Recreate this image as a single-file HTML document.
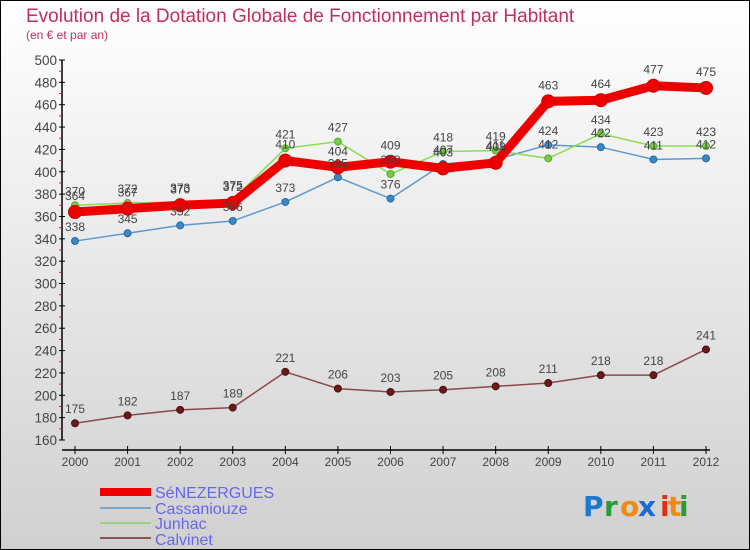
<!DOCTYPE html>
<html><head><meta charset="utf-8"><style>
html,body{margin:0;padding:0}
body{width:750px;height:550px;overflow:hidden;font-family:"Liberation Sans","DejaVu Sans",sans-serif}
</style></head><body>
<svg id="chart" width="750" height="550" xmlns="http://www.w3.org/2000/svg" style="display:block">
<defs>
<linearGradient id="bg" x1="0" y1="0" x2="0" y2="1">
<stop offset="0" stop-color="#ffffff"/><stop offset="1" stop-color="#d0d0d0"/>
</linearGradient>
</defs>
<rect x="0.5" y="0.5" width="749" height="549" fill="url(#bg)" stroke="#000" stroke-width="1"/>
<text x="26" y="22" font-size="19" fill="#c0305a" font-weight="normal">Evolution de la Dotation Globale de Fonctionnement par Habitant</text>
<text x="26" y="39" font-size="12" fill="#c0305a">(en € et par an)</text>
<g id="axes"></g>
<g id="series"></g>
<g id="labels"></g>
<g>
<rect x="100" y="488" width="51" height="8" fill="#ee0000"/>
<text x="155" y="498" font-size="16" fill="#6666ee">SéNEZERGUES</text>
<rect x="100" y="507" width="51" height="2" fill="#7aa8c8"/>
<text x="155" y="514" font-size="16" fill="#6666ee">Cassaniouze</text>
<rect x="100" y="522" width="51" height="2" fill="#9ad47a"/>
<text x="155" y="529" font-size="16" fill="#6666ee">Junhac</text>
<rect x="100" y="537" width="51" height="2" fill="#8a5555"/>
<text x="155" y="545" font-size="16" fill="#6666ee">Calvinet</text>
</g>
<g font-size="28" font-weight="bold" font-family="'DejaVu Sans',sans-serif">
<text x="583" y="516" fill="#1a7ad0">P</text><text x="604" y="516" fill="#2a9a3a">r</text><text x="620" y="516" fill="#f08a10">o</text><text x="638" y="516" fill="#1a6ad0">x</text><text x="660" y="516" fill="#e03010">i</text><text x="668" y="516" fill="#f08a10">t</text><text x="679" y="516" fill="#2a9a3a">i</text>
</g>
</svg>
<script>
const years=["2000","2001","2002","2003","2004","2005","2006","2007","2008","2009","2010","2011","2012"];
const yTicks=[160,180,200,220,240,260,280,300,320,340,360,380,400,420,440,460,480,500];
const senezergues=[364,367,370,372,410,404,409,403,408,463,464,477,475];
const cassaniouze=[338,345,352,356,373,395,376,407,411,424,422,411,412];
const junhac=[370,372,373,375,421,427,398,418,419,412,434,423,423];
const calvinet=[175,182,187,189,221,206,203,205,208,211,218,218,241];
const NS="http://www.w3.org/2000/svg";
const X0=75,X1=706,Y160=440,Y500=60;
const xs=i=>X0+(X1-X0)*i/(years.length-1);
const ys=v=>Y160-(v-160)*(Y160-Y500)/(500-160);
function mk(parent,tag,attrs){const e=document.createElementNS(NS,tag);for(const k in attrs)e.setAttribute(k,attrs[k]);document.getElementById(parent).appendChild(e);return e;}
let e=mk('axes','line',{x1:62,y1:ys(500),x2:62,y2:ys(160),stroke:'#000','stroke-width':1.5});


e=mk('axes','line',{x1:62,y1:450,x2:710,y2:450,stroke:'#000','stroke-width':1.5});


yTicks.forEach((v,i)=>{
  const y=ys(v);
  const t=mk('axes','line',{x1:59,y1:y,x2:65,y2:y,stroke:'#000'});
  
  
  if(i<yTicks.length-1){const m=mk('axes','line',{x1:59,y1:ys(v+10),x2:62,y2:ys(v+10),stroke:'#e02020'});
  
  }
  const l=mk('axes','text',{x:57,y:y+5,'text-anchor':'end','font-size':13.5,fill:'#444'});l.textContent=v;
  
  
});
years.forEach((yr,i)=>{
  const x=xs(i);
  const t=mk('axes','line',{x1:x,y1:446,x2:x,y2:454,stroke:'#000'});
  
  
  const l=mk('axes','text',{x:x,y:466,'text-anchor':'middle','font-size':12,fill:'#444'});l.textContent=yr;
  
  
});
function series(name,vals,color,w,r,dotFill,dotStroke,labelDy){
  const pts=vals.map((v,i)=>xs(i)+','+ys(v)).join(' ');
  const p=mk('series','polyline',{points:pts,fill:'none',stroke:color,'stroke-width':w,'stroke-linejoin':'round'});
  
  
  vals.forEach((v,i)=>{
    const c=mk('series','circle',{cx:xs(i),cy:ys(v),r:r,fill:dotFill,stroke:dotStroke,'stroke-width':1});
    
    
    const t=mk('labels','text',{x:xs(i),y:ys(v)+labelDy,'text-anchor':'middle','font-size':12,fill:'#444'});t.textContent=v;
    
    
  });
}
series('calvinet',calvinet,'#8a4a4a',1.5,3.5,'#6a1a1a','#4a1010',-10);
series('cassaniouze',cassaniouze,'#5a9ad0',1.5,3.5,'#3a88c8','#2a6aa0',-10);
series('junhac',junhac,'#88dd55',1.5,3.5,'#77cc44','#55aa33',-10);
series('senezergues',senezergues,'#ee0000',9,6.5,'#ee0000','#cc0000',-12);
</script>
</body></html>
